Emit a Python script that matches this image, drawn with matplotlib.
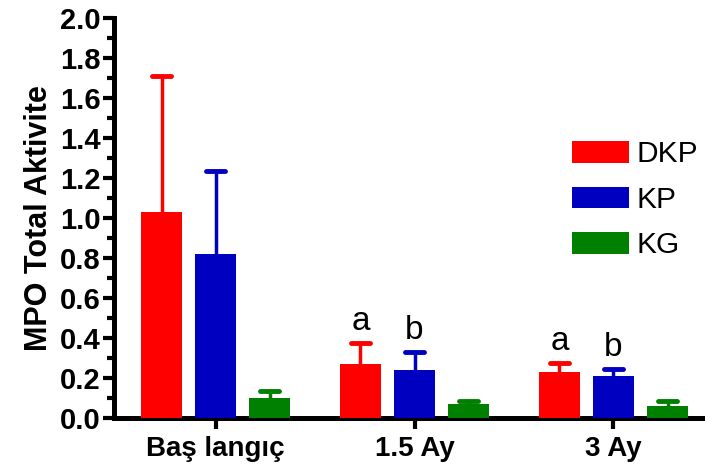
import matplotlib
matplotlib.use("Agg")
import matplotlib.pyplot as plt
import numpy as np
from matplotlib.ticker import MultipleLocator
from matplotlib.patches import Patch

plt.rcParams['font.family'] = ['Liberation Sans', 'DejaVu Sans']

categories = ["Baş langıç", "1.5 Ay", "3 Ay"]
series = ["DKP", "KP", "KG"]
colors = ["#FF0000", "#0000C0", "#008000"]
means = {
    "DKP": [1.03, 0.27, 0.23],
    "KP": [0.82, 0.24, 0.21],
    "KG": [0.10, 0.07, 0.06],
}
errs = {
    "DKP": [0.68, 0.105, 0.045],
    "KP": [0.415, 0.09, 0.035],
    "KG": [0.035, 0.015, 0.025],
}
letters = {"DKP": ["", "a", "a"], "KP": ["", "b", "b"]}

fig = plt.figure(figsize=(7.05, 4.70), dpi=100)
ax = fig.add_axes([0.162, 0.111, 0.838, 0.851])

x = np.arange(len(categories))
width = 0.205
pitch = 0.272
capw = 0.048
for i, s in enumerate(series):
    xs = x + (i - 1) * pitch
    m = np.array(means[s])
    e = np.array(errs[s])
    ax.bar(xs, m, width=width, color=colors[i], zorder=3)
    ax.vlines(xs, m, m + e, color=colors[i], linewidth=2.5, zorder=2)
    ax.hlines(m + e, xs - capw, xs + capw, color=colors[i], linewidth=3.5,
              capstyle='round', zorder=2)
    if s in letters:
        for xi, mi, ei, t in zip(xs, m, e, letters[s]):
            if t:
                ax.text(xi, mi + ei + 0.03, t, ha='center', va='bottom', fontsize=24)

ax.set_ylim(0, 2.0)
ax.set_xlim(-0.51, 2.46)
ax.yaxis.set_minor_locator(MultipleLocator(0.1))
yt = np.arange(0, 2.01, 0.2)
ax.set_yticks(yt)
ax.set_yticklabels([f"{v:.1f}" for v in yt], fontsize=21, fontweight='bold')
ax.set_xticks(x)
ax.set_xticklabels(categories, fontsize=20, fontweight='bold')
ax.set_ylabel("MPO Total Aktivite", fontsize=22, fontweight='bold', labelpad=4)

for sp in ['top', 'right']:
    ax.spines[sp].set_visible(False)
for sp in ['left', 'bottom']:
    ax.spines[sp].set_linewidth(3.6)
ax.tick_params(axis='y', which='major', length=8, width=3, pad=2)
ax.tick_params(axis='y', which='minor', length=5, width=3)
ax.tick_params(axis='x', which='major', length=8, width=3, pad=5)

handles = [Patch(facecolor=c) for c in colors]
fig.legend(handles, series, loc='upper left', bbox_to_anchor=(0.795, 0.727),
           frameon=False, fontsize=21.5, handlelength=1.9, handleheight=0.75,
           handletextpad=0.25, labelspacing=0.59, borderaxespad=0)

fig.savefig("out.png", dpi=100)
